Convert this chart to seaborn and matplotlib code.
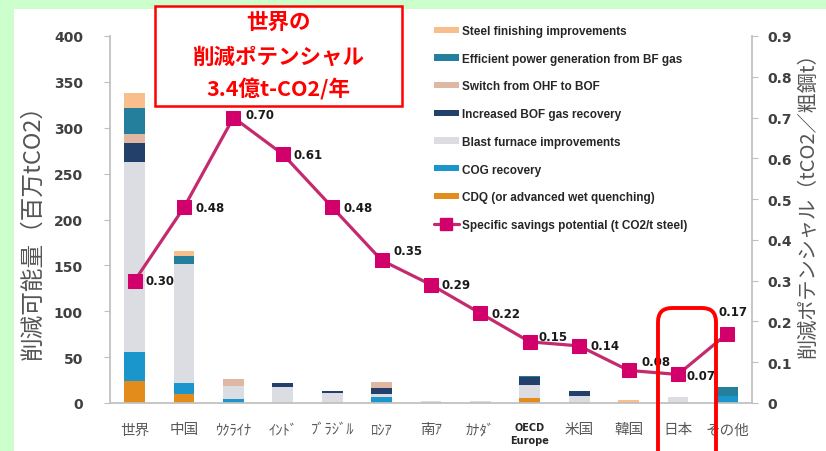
import numpy as np
import pandas as pd
import matplotlib
matplotlib.use("Agg")
import matplotlib.pyplot as plt
import seaborn as sns
from matplotlib.patches import Patch, Rectangle, FancyBboxPatch
from matplotlib.lines import Line2D
from matplotlib.transforms import IdentityTransform

# ---------------- data ----------------
categories = ['世界', '中国', 'ｳｸﾗｲﾅ', 'ｲﾝﾄﾞ', 'ﾌﾞﾗｼﾞﾙ', 'ﾛｼｱ', '南ｱ', 'ｶﾅﾀﾞ',
              'OECD\nEurope', '米国', '韓国', '日本', 'その他']
cdq       = [24, 10, 0, 0, 0, 0, 0, 0, 5, 0, 0, 0, 0]
cog       = [32, 12, 4, 0, 0, 7, 0, 0, 0, 0, 0, 0, 8]
blast     = [207, 130, 14, 17, 11, 3, 2, 2, 15, 8, 0, 7, 0]
bof_gas   = [20, 0, 0, 5, 2, 6, 0, 0, 8, 5, 0, 0, 0]
ohf_bof   = [10, 0, 8, 0, 0, 7, 0, 0, 0, 0, 0, 0, 0]
power_gen = [28, 8, 0, 0, 0, 0, 0, 0, 1, 0, 0, 0, 9]
finishing = [17, 6, 0, 0, 0, 0, 0, 0, 0, 0, 3, 0, 0]
savings   = [0.30, 0.48, 0.70, 0.61, 0.48, 0.35, 0.29, 0.22, 0.15, 0.14, 0.08, 0.07, 0.17]

layer_names = ['CDQ (or advanced wet quenching)', 'COG recovery', 'Blast furnace improvements',
               'Increased BOF gas recovery', 'Switch from OHF to BOF',
               'Efficient power generation from BF gas', 'Steel finishing improvements']
layer_values = [cdq, cog, blast, bof_gas, ohf_bof, power_gen, finishing]
line_name = 'Specific savings potential (t CO2/t steel)'

left_ticks = [0, 50, 100, 150, 200, 250, 300, 350, 400]
right_ticks = [0, 0.1, 0.2, 0.3, 0.4, 0.5, 0.6, 0.7, 0.8, 0.9]
right_tick_labels = ['0', '0.1', '0.2', '0.3', '0.4', '0.5', '0.6', '0.7', '0.8', '0.9']

# ---------------- style ----------------
layer_colors = ['#e38c1c', '#1b96cc', '#dcdde3', '#23406a', '#deb8a2', '#237f9c', '#f8bf8c']
line_color = '#c42a6e'
marker_color = '#d2006b'
green = '#ccffcc'

sns.set_theme(style='white')
plt.rcParams['font.family'] = ['Noto Sans CJK JP', 'DejaVu Sans']

W, H = 826, 452
fig = plt.figure(figsize=(W / 100, H / 100), dpi=100, facecolor=green)
fig.add_artist(Rectangle((14 / W, 0), 1 - 14 / W, 1 - 10 / H, transform=fig.transFigure,
                         facecolor='white', edgecolor='none', zorder=-10))

ax = fig.add_axes([110 / W, 1 - 404 / H, (752 - 110) / W, (404 - 37) / H])
ax.set_facecolor('none')

df = pd.DataFrame({'cat': categories})
cum = np.cumsum(np.array(layer_values, dtype=float), axis=0)
# draw cumulative totals from the top layer down so each lower layer overlays
for i in range(len(layer_values) - 1, -1, -1):
    df['h'] = cum[i]
    sns.barplot(data=df, x='cat', y='h', color=layer_colors[i], saturation=1,
                width=0.42, linewidth=0, ax=ax, order=categories)

ax.set_xlim(-0.5, len(categories) - 0.5)
ax.set_ylim(0, 400)
ax.set_yticks(left_ticks)
ax.set_yticklabels([str(t) for t in left_ticks])
ax.set_xlabel('')
ax.set_ylabel('')

ax2 = ax.twinx()
xpos = np.arange(len(categories))
sns.lineplot(x=xpos, y=savings, ax=ax2, color=line_color, linewidth=2.3,
             marker='s', markersize=9.5, markerfacecolor=marker_color,
             markeredgecolor=marker_color, sort=False)
ax2.set_ylim(0, 0.9)
ax2.set_xlim(-0.5, len(categories) - 0.5)
ax2.set_yticks(right_ticks)
ax2.set_yticklabels(right_tick_labels)
ax2.set_ylabel('')

label_offsets = {2: (12, 3, 'left'), 5: (12, 10, 'left'), 8: (9, 5, 'left'),
                 10: (13, 9, 'left'), 11: (9, -1, 'left'), 12: (6, 22, 'center')}
for i, v in enumerate(savings):
    dx, dy, ha = label_offsets.get(i, (11, 0, 'left'))
    ax2.annotate(f'{v:.2f}', (i, v), xytext=(dx, dy), textcoords='offset pixels',
                 ha=ha, va='center', fontsize=8.5, fontweight='bold',
                 family='DejaVu Sans', color='#1a1a1a')

# spines / ticks
for a in (ax, ax2):
    a.spines['top'].set_visible(False)
    a.spines['left'].set_color('#bfbfbf')
    a.spines['right'].set_color('#bfbfbf')
    a.spines['bottom'].set_color('#bfbfbf')
ax.spines['right'].set_visible(False)
ax2.spines['left'].set_visible(False)
ax2.spines['bottom'].set_visible(False)

ax.tick_params(axis='y', direction='out', length=4, width=0.8, color='#bfbfbf', pad=15.5,
               labelsize=10, labelcolor='#404040')
ax2.tick_params(axis='y', direction='out', length=4, width=0.8, color='#bfbfbf', pad=7,
                labelsize=10, labelcolor='#404040')
for lab in ax.get_yticklabels() + ax2.get_yticklabels():
    lab.set_fontweight('bold')
    lab.set_family('DejaVu Sans')

ax.tick_params(axis='x', which='major', length=0, pad=14, labelsize=10.5, labelcolor='#595959')
ax.set_xticks(np.arange(len(categories) - 1) + 0.5, minor=True)
ax.tick_params(axis='x', which='minor', direction='out', length=4, width=0.8, color='#bfbfbf')
for lab in ax.get_xticklabels():
    if lab.get_text().startswith('OECD'):
        lab.set_fontsize(7)
        lab.set_fontweight('bold')
        lab.set_color('#262626')
        lab.set_family('DejaVu Sans')
        lab.set_linespacing(1.3)

# axis titles
fig.text(33 / W, 1 - 226 / H, '削減可能量（百万tCO2）', rotation=90, ha='center', va='center',
         fontsize=17, color='#555555')
fig.text(808 / W, 1 - 200 / H, '削減ポテンシャル（tCO2／粗鋼t）', rotation=90, ha='center',
         va='center', fontsize=14.5, color='#555555')

# legend
handles = [Patch(facecolor=layer_colors[i], edgecolor='none') for i in range(len(layer_names) - 1, -1, -1)]
labels = [layer_names[i] for i in range(len(layer_names) - 1, -1, -1)]
handles.append(Line2D([0], [0], color=line_color, linewidth=2.3, marker='s', markersize=9,
                      markerfacecolor=marker_color, markeredgecolor=marker_color))
labels.append(line_name)
fig.legend(handles, labels, loc='upper left', bbox_to_anchor=(434 / W, 1 - 26 / H),
           frameon=False, prop={'family': 'Liberation Sans', 'weight': 'bold', 'size': 8.5},
           handlelength=2.1, handleheight=0.45, handletextpad=0.3, labelspacing=1.33,
           borderpad=0, borderaxespad=0, labelcolor='#262626')

# title box
fig.add_artist(Rectangle((155 / W, 1 - 107 / H), (402 - 155) / W, 100 / H,
                         transform=fig.transFigure, facecolor='white', edgecolor='#ff0000',
                         linewidth=1.8, zorder=5))
for txt, yy in [('世界の', 22), ('削減ポテンシャル', 57), ('3.4億t-CO2/年', 90)]:
    fig.text(278.5 / W, 1 - yy / H, txt, ha='center', va='center', fontsize=15.5,
             fontweight='bold', color='#ff0000', zorder=6)

# highlight box around 日本
fig.add_artist(FancyBboxPatch((658, H - 480), 58, 480 - 309,
                              boxstyle='round,pad=0,rounding_size=14',
                              transform=IdentityTransform(), facecolor='none',
                              edgecolor='#ff0000', linewidth=2.8, zorder=7))

fig.savefig('out.png', dpi=100, facecolor=green)
